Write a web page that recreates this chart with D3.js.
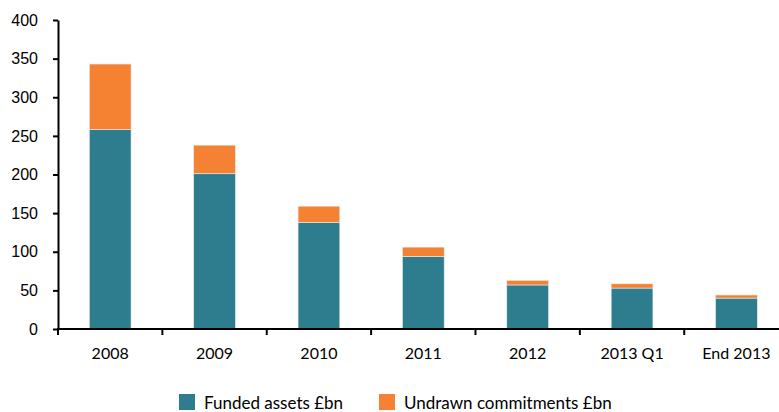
<!DOCTYPE html>
<html>
<head>
<meta charset="utf-8">
<script src="https://cdn.jsdelivr.net/npm/d3@7"></script>
<style>
  body { margin: 0; background: #fff; }
  svg { display: block; font-family: Lato, "Open Sans", sans-serif; }
</style>
</head>
<body>
<div id="chart"></div>
<script>
const categories = ["2008", "2009", "2010", "2011", "2012", "2013 Q1", "End 2013"]
const funded = [258, 201, 138, 94, 57, 53, 40]
const undrawn = [85, 37, 21, 12, 6, 5.5, 4]
const yTicks = [0, 50, 100, 150, 200, 250, 300, 350, 400]
const seriesNames = ["Funded assets £bn", "Undrawn commitments £bn"]
const colors = ["#2D7D8E", "#F58232"]

const width = 779
const height = 412

const svg = d3.select("#chart")
  .append("svg")
  .attr("width", width)
  .attr("height", height)

// scales
const x = d3.scaleBand()
  .domain(categories)
  .range([58, 788.6])
  .paddingInner(0.6)
  .paddingOuter(0.3)

const y = d3.scaleLinear()
  .domain([0, 400])
  .range([329, 20])

const rows = categories.map((c, i) => ({ cat: c, funded: funded[i], undrawn: undrawn[i] }))
const stack = d3.stack().keys(["funded", "undrawn"])(rows)

// bars
svg.append("g")
  .selectAll("g")
  .data(stack)
  .join("g")
  .attr("fill", (d, i) => colors[i])
  .selectAll("rect")
  .data(d => d)
  .join("rect")
  .attr("x", d => x(d.data.cat))
  .attr("width", x.bandwidth())
  .attr("y", d => y(d[1]))
  .attr("height", d => y(d[0]) - y(d[1]))
  .attr("stroke", "#e8eef0")
  .attr("stroke-width", 0.6)

// y axis
const yAxis = svg.append("g")
  .attr("transform", "translate(58,0)")
  .call(d3.axisLeft(y).tickValues(yTicks).tickSize(5).tickSizeOuter(0))
yAxis.select(".domain").attr("stroke", "#000").attr("stroke-width", 2)
yAxis.selectAll(".tick line").attr("stroke", "#000").attr("stroke-width", 2)
yAxis.selectAll(".tick text")
  .attr("x", -20)
  .attr("font-size", 16)
  .attr("fill", "#000")

// x axis with ticks between categories
const step = x.step()
const bounds = d3.range(categories.length + 1).map(i => 58 + i * step)
const xAxisG = svg.append("g")
xAxisG.append("line")
  .attr("x1", 57)
  .attr("x2", width)
  .attr("y1", y(0))
  .attr("y2", y(0))
  .attr("stroke", "#000")
  .attr("stroke-width", 2)
xAxisG.selectAll("line.tick")
  .data(bounds)
  .join("line")
  .attr("class", "tick")
  .attr("x1", d => d)
  .attr("x2", d => d)
  .attr("y1", y(0))
  .attr("y2", y(0) + 6)
  .attr("stroke", "#000")
  .attr("stroke-width", 2)
xAxisG.selectAll("text")
  .data(categories)
  .join("text")
  .attr("x", d => x(d) + x.bandwidth() / 2)
  .attr("y", 359)
  .attr("text-anchor", "middle")
  .attr("font-size", 16)
  .attr("fill", "#000")
  .text(d => d)

// legend
const legendX = [179, 379]
const legend = svg.append("g")
  .selectAll("g")
  .data(seriesNames)
  .join("g")
  .attr("transform", (d, i) => "translate(" + legendX[i] + ",394)")
legend.append("rect")
  .attr("width", 16)
  .attr("height", 16)
  .attr("fill", (d, i) => colors[i])
legend.append("text")
  .attr("x", 25)
  .attr("y", 15)
  .attr("font-size", 17)
  .attr("fill", "#000")
  .text(d => d)
</script>
</body>
</html>
